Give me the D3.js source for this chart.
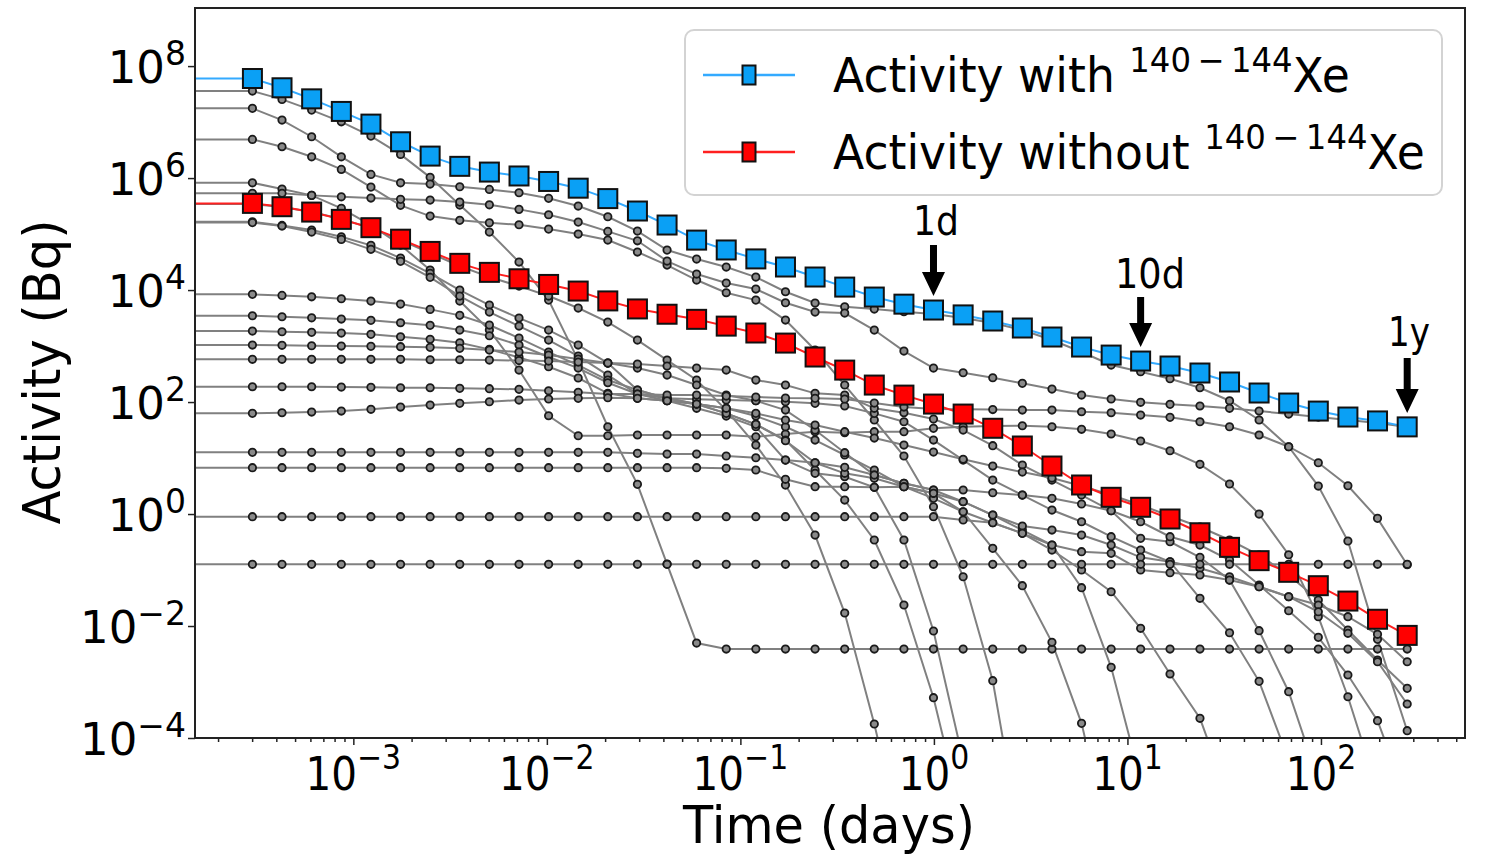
<!DOCTYPE html>
<html><head><meta charset="utf-8">
<script src="https://cdn.jsdelivr.net/npm/d3@7"></script>
<style>
body{margin:0;background:#fff;}
text{font-family:"DejaVu Sans",sans-serif;fill:#000;}
</style></head><body>
<svg id="c" width="1496" height="854"></svg>
<script>
// ---- data ----
const timesDays = [3.01e-4,4.28e-4,6.09e-4,8.67e-4,1.233e-3,1.754e-3,2.494e-3,3.548e-3,5.047e-3,7.18e-3,
  1.021e-2,1.452e-2,2.065e-2,2.938e-2,4.18e-2,5.94e-2,8.45e-2,0.1202,0.171,0.2432,
  0.346,0.492,0.70,0.995,1.416,2.014,2.864,4.074,5.794,8.24,
  11.7,16.6,23.7,33.7,47.9,68.1,96.9,137.8,196,279];
const lineStartTime = 1.0e-4;
const activityWithXe = [6.0e7,4.1e7,2.6e7,1.55e7,9.2e6,4.45e6,2.47e6,1.62e6,1.28e6,1.09e6,
  8.7e5,6.6e5,4.3e5,2.58e5,1.45e5,7.8e4,5.2e4,3.6e4,2.58e4,1.71e4,
  1.13e4,7.5e3,5.6e3,4.4e3,3.6e3,2.8e3,2.1e3,1.45e3,960,690,
  540,440,330,228,145,96,69,54,46,36];
const activityWithoutXe = [3.53e5,3.08e5,2.47e5,1.83e5,1.30e5,8.1e4,4.9e4,3.0e4,2.07e4,1.59e4,
  1.26e4,9.6e3,6.4e3,4.6e3,3.7e3,3.0e3,2.27e3,1.71e3,1.13e3,637,
  372,201,133,92,61,34,16.4,7.2,3.3,1.99,
  1.32,0.815,0.463,0.254,0.147,0.091,0.0525,0.0279,0.0132,0.0068];
// individual nuclide activities, stored as log10(Bq); -8 = far below the plotted range
const nuclideLog10 = [
 [7.554,7.405,7.214,7.005,6.75,6.423,6.013,5.518,5.036,4.5, 3.821,2.75,1.559,0.530,-0.893,-2.304,-2.411,-2.411,-2.411,-2.411,
  -2.411,-2.411,-2.411,-2.411,-2.411,-2.411,-2.411,-2.411,-2.411,-2.411, -2.411,-2.411,-2.411,-2.411,-2.411,-2.411,-2.411,-2.411,-2.411,-2.411],
 [7.245,7.036,6.738,6.380,6.066,5.916,5.893,5.845,5.798,5.738, 5.638,5.5,5.309,5.054,4.714,4.554,4.411,4.232,3.970,3.768,
  3.702,3.661,3.613,3.571,3.5,3.411,3.286,3.107,2.893,2.661, 2.541,2.416,2.255,2.023,1.679,1.202,0.5,-0.482,-2.238,-3.870],
 [6.691,6.559,6.380,6.155,5.839,5.513,5.321,5.245,5.202,5.166, 5.089,5.0,4.893,4.679,4.446,4.179,3.952,3.821,3.464,2.929,
  2.304,1.679,1.036,0.130,-1.120,-2.977,-6.0,-8,-8,-8, -8,-8,-8,-8,-8,-8,-8,-8,-8,-8],
 [5.916,5.804,5.691,5.459,5.161,4.804,4.357,3.804,3.286,2.571, 1.755,1.398,1.398,1.411,1.411,1.411,1.411,1.380,1.429,1.470,
  1.452,1.470,1.470,1.530,1.559,1.571,1.577,1.559,1.513,1.429, 1.304,1.130,0.888,0.536,0,-0.727,-1.834,-3.263,-4.929,-6.893],
 [5.727,5.727,5.691,5.666,5.643,5.620,5.607,5.571,5.523,5.441, 5.345,5.214,5.048,4.880,4.518,4.286,4.125,4.018,3.773,3.607,
  3.589,3.286,2.911,2.607,2.523,2.434,2.334,2.232,2.125,2.054, 1.995,1.959,1.929,1.888,1.839,1.786,1.732,1.679,1.625,1.554],
 [5.536,5.482,5.393,5.268,5.107,4.893,4.661,4.429,4.232,4.071, 3.893,3.679,3.429,3.107,2.75,2.393,1.857,1.232,0.518,-0.375,
  -1.768,-3.75,-6.0,-8,-8,-8,-8,-8,-8,-8, -8,-8,-8,-8,-8,-8,-8,-8,-8,-8],
 [5.220,5.155,5.071,4.952,4.798,4.571,4.298,4.0,3.732,3.5, 3.286,3.018,2.696,2.214,2.066,1.964,1.798,1.602,1.321,0.786,
  0.25,-0.464,-1.625,-3.280,-5.464,-8,-8,-8,-8,-8, -8,-8,-8,-8,-8,-8,-8,-8,-8,-8],
 [5.205,5.143,5.036,4.905,4.727,4.513,4.227,3.893,3.607,3.357, 3.107,2.821,2.482,2.143,2.023,1.888,1.75,1.559,0.964,0.727,
  0.666,0.477,-0.464,-2.089,-4.393,-8,-8,-8,-8,-8, -8,-8,-8,-8,-8,-8,-8,-8,-8,-8],
 [3.923,3.905,3.880,3.845,3.804,3.75,3.655,3.548,3.375,3.143, 2.893,2.661,2.393,2.214,2.066,1.964,1.888,1.75,1.559,1.321,
  1.054,0.786,0.488,0.280,0.041,-0.613,-1.280,-2.291,-3.738,-6.0, -8,-8,-8,-8,-8,-8,-8,-8,-8,-8],
 [3.541,3.523,3.505,3.482,3.459,3.416,3.370,3.286,3.184,3.018, 2.804,2.607,2.345,2.143,2.066,2.048,2.036,2.023,1.857,1.5,
  1.095,0.696,0.548,0.429,0.220,-0.018,-0.286,-0.554,-1.316,-2.738, -4.75,-8,-8,-8,-8,-8,-8,-8,-8,-8],
 [3.268,3.255,3.245,3.232,3.209,3.166,3.120,3.059,2.941,2.798, 2.630,2.429,2.155,2.066,2.023,1.964,1.798,1.602,1.309,0.916,
  0.727,0.638,0.488,0.370,0.041,-0.155,-0.345,-0.643,-1.0,-1.388, -2.041,-2.857,-3.648,-5.107,-8,-8,-8,-8,-8,-8],
 [3.018,3.013,3.005,3.0,2.995,2.988,2.977,2.959,2.929,2.893, 2.839,2.768,2.696,2.607,2.482,2.304,2.125,2.023,2.005,1.977,
  1.929,1.798,1.648,1.321,0.964,0.607,0.339,0.071,-0.138,-0.405, -0.643,-0.852,-1.505,-2.120,-2.988,-4.393,-8,-8,-8,-8],
 [2.763,2.763,2.763,2.763,2.763,2.763,2.755,2.755,2.75,2.741, 2.732,2.714,2.696,2.679,2.643,2.607,2.571,2.393,2.304,2.155,
  2.125,1.888,1.809,1.696,1.5,1.220,0.875,0.607,0.339,0.059, -0.434,-0.495,-0.773,-1.179,-2.084,-3.173,-4.75,-8,-8,-8],
 [2.273,2.273,2.273,2.268,2.263,2.255,2.255,2.245,2.238,2.227, 2.202,2.173,2.143,2.143,2.125,2.125,2.107,2.089,2.071,2.066,
  2.054,1.982,1.911,1.875,1.870,1.866,1.857,1.857,1.827,1.809, 1.768,1.727,1.648,1.559,1.411,1.202,0.916,0.505,-0.077,-0.905],
 [1.798,1.809,1.821,1.839,1.870,1.911,1.946,1.977,2.005,2.036, 2.054,2.066,2.077,2.066,2.023,1.964,1.888,1.798,1.679,1.589,
  1.470,1.357,1.232,1.107,0.977,0.857,0.75,0.643,0.5,0.339, 0.161,-0.036,-0.232,-0.464,-0.732,-1.089,-1.536,-2.071,-2.607,-3.113],
 [1.102,1.102,1.102,1.102,1.102,1.102,1.102,1.102,1.102,1.102, 1.102,1.102,1.102,1.084,1.071,1.071,1.036,1.005,0.964,0.916,
  0.834,0.696,0.548,0.429,0.429,0.380,0.339,0.280,0.179,0.059, -0.138,-0.405,-0.554,-0.821,-1.268,-1.727,-2.202,-2.875,-3.691,-5.107],
 [0.827,0.827,0.827,0.827,0.827,0.827,0.827,0.827,0.827,0.827, 0.827,0.827,0.827,0.827,0.827,0.827,0.816,0.786,0.620,0.488,
  0.488,0.477,0.488,0.370,0.220,-0.018,-0.214,-0.286,-0.375,-0.554, -0.773,-0.852,-0.970,-1.120,-1.298,-1.477,-1.625,-1.834,-2.148,-2.638],
 [-0.048,-0.048,-0.048,-0.048,-0.048,-0.048,-0.048,-0.048,-0.048,-0.048, -0.048,-0.048,-0.048,-0.048,-0.048,-0.048,-0.048,-0.048,-0.048,-0.048,
  -0.048,-0.048,-0.048,-0.048,-0.107,-0.155,-0.345,-0.554,-0.673,-0.702, -1.0,-1.048,-1.089,-1.179,-1.298,-1.477,-1.745,-2.130,-2.638,-3.393],
 [-0.898,-0.898,-0.898,-0.898,-0.898,-0.898,-0.898,-0.898,-0.898,-0.898, -0.898,-0.898,-0.898,-0.898,-0.898,-0.898,-0.898,-0.898,-0.898,-0.898,
  -0.898,-0.898,-0.898,-0.898,-0.898,-0.898,-0.898,-0.898,-0.898,-0.898, -0.898,-0.898,-0.898,-0.898,-0.898,-0.898,-0.898,-0.898,-0.898,-0.898]
];
const xTickExps = [-3,-2,-1,0,1,2];
const yTickExps = [-4,-2,0,2,4,6,8];
const legendLabels = ["Activity with ", "Activity without "];
const legendSup = "140\u2009\u2212\u2009144";
const annotations = [{label:"1d", idx:23}, {label:"10d", idx:30}, {label:"1y", idx:39}];

// ---- drawing ----
const svg = d3.select("#c");
const L = 195, R = 1465, T = 8, B = 738;
const x = d3.scaleLog().domain([1.52e-4, 555]).range([L, R]);
const y = d3.scaleLog().domain([1e-4, 1.09e9]).range([B, T]);

svg.append("defs").append("clipPath").attr("id","clip")
  .append("rect").attr("x",L).attr("y",T).attr("width",R-L).attr("height",B-T);

const plot = svg.append("g").attr("clip-path","url(#clip)");
const line = d3.line().x(d=>x(d[0])).y(d=>y(d[1]));
const withStart = vals => [[lineStartTime, vals[0]]].concat(vals.map((v,i)=>[timesDays[i], v]));

// gray nuclide lines
const grayG = plot.append("g");
nuclideLog10.forEach(arr => {
  const vals = arr.map(e => Math.pow(10, e));
  grayG.append("path").attr("d", line(withStart(vals)))
    .attr("fill","none").attr("stroke","#808080").attr("stroke-width",2);
});
nuclideLog10.forEach(arr => {
  arr.forEach((e,i) => {
    const v = Math.pow(10,e);
    if (v < 1e-4) return;
    grayG.append("circle").attr("cx", x(timesDays[i])).attr("cy", y(v)).attr("r",3.7)
      .attr("fill","#8a8a8a").attr("stroke","#1a1a1a").attr("stroke-width",1.8);
  });
});

function series(vals, lineColor, fill) {
  const g = plot.append("g");
  g.append("path").attr("d", line(withStart(vals))).attr("fill","none")
    .attr("stroke", lineColor).attr("stroke-width", 2);
  g.selectAll("rect").data(vals).join("rect")
    .attr("x",(d,i)=>x(timesDays[i])-9.5).attr("y",d=>y(d)-9.5)
    .attr("width",19).attr("height",19).attr("fill",fill)
    .attr("stroke","#111").attr("stroke-width",2);
}
series(activityWithoutXe, "#ff2020", "#ff0000");
series(activityWithXe, "#33aaff", "#0aa0f5");

// frame
svg.append("rect").attr("x",L).attr("y",T).attr("width",R-L).attr("height",B-T)
  .attr("fill","none").attr("stroke","#222").attr("stroke-width",2);

// x axis ticks
const xMajor = xTickExps.map(e=>Math.pow(10,e));
const xMinor = [];
for (let e=-4; e<=2; e++) for (let m=2; m<=9; m++) { const v=m*Math.pow(10,e); if (v>1.52e-4 && v<555) xMinor.push(v); }
const xAxisMajor = svg.append("g").attr("transform",`translate(0,${B})`)
  .call(d3.axisBottom(x).tickValues(xMajor).tickSize(7).tickFormat(""));
const xAxisMinor = svg.append("g").attr("transform",`translate(0,${B})`)
  .call(d3.axisBottom(x).tickValues(xMinor).tickSize(4).tickFormat(""));
[xAxisMajor, xAxisMinor].forEach(g => { g.select(".domain").remove(); g.selectAll("line").attr("stroke","#222").attr("stroke-width",1.5); });

xTickExps.forEach(e => {
  const cx = x(Math.pow(10,e));
  const t = svg.append("text").attr("x", cx).attr("y", 790)
    .attr("text-anchor","middle").attr("font-size",46);
  t.append("tspan").text("10");
  t.append("tspan").attr("dy",-21).attr("font-size",34).text(e<0 ? "\u2212"+(-e) : String(e));
  t.attr("transform", `translate(${cx},0) scale(0.88,1) translate(${-cx},0)`);
});

// y axis ticks
const yAxis = svg.append("g").attr("transform",`translate(${L},0)`)
  .call(d3.axisLeft(y).tickValues(yTickExps.map(e=>Math.pow(10,e))).tickSize(7).tickFormat(""));
yAxis.select(".domain").remove();
yAxis.selectAll("line").attr("stroke","#222").attr("stroke-width",1.5);
yTickExps.forEach(e => {
  const yy = y(Math.pow(10,e));
  const t = svg.append("text").attr("x", 186).attr("y", yy+17)
    .attr("text-anchor","end").attr("font-size",45);
  t.append("tspan").text("10");
  t.append("tspan").attr("dy",-18).attr("font-size",33).text(e<0 ? "\u2212"+(-e) : String(e));
});

// axis titles
const xt = svg.append("text").attr("x", 829).attr("y", 843).attr("text-anchor","middle")
  .attr("font-size",51).text("Time (days)");
{ const s = 292 / xt.node().getComputedTextLength();
  xt.attr("transform", `translate(829,0) scale(${s},1) translate(-829,0)`); }
const yt = svg.append("text").attr("text-anchor","middle").attr("font-size",52).text("Activity (Bq)");
{ const s = 305 / yt.node().getComputedTextLength();
  yt.attr("transform", `translate(60,372) rotate(-90) scale(${s},1)`); }

// legend
const lg = svg.append("g");
lg.append("rect").attr("x",685).attr("y",30).attr("width",757).attr("height",165).attr("rx",9)
  .attr("fill","#fff").attr("fill-opacity",0.85).attr("stroke","#d3d3d3").attr("stroke-width",2);
const legendRows = [{cy:75, color:"#33aaff", fill:"#0aa0f5", w:517}, {cy:152, color:"#ff2020", fill:"#ff0000", w:592}];
legendRows.forEach((r,i) => {
  lg.append("line").attr("x1",703).attr("x2",795).attr("y1",r.cy).attr("y2",r.cy)
    .attr("stroke",r.color).attr("stroke-width",2.5);
  lg.append("rect").attr("x",749-6.5).attr("y",r.cy-9.5).attr("width",13).attr("height",19)
    .attr("fill",r.fill).attr("stroke","#111").attr("stroke-width",2);
  const t = lg.append("text").attr("x",833).attr("y",r.cy+17).attr("font-size",48);
  t.append("tspan").text(legendLabels[i]);
  t.append("tspan").attr("dy",-20).attr("font-size",34).text(legendSup);
  t.append("tspan").attr("dy",20).text("Xe");
  const s = r.w / t.node().getBBox().width;
  t.attr("transform", `translate(833,0) scale(${s},1) translate(-833,0)`);
});

// annotations with arrows
const annG = svg.append("g");
const annLayout = [{tx:936, ty:235, w:46, top:245}, {tx:1150, ty:288, w:70, top:297}, {tx:1409, ty:346, w:42, top:358}];
annotations.forEach((a,k) => {
  const lay = annLayout[k];
  const ax = x(timesDays[a.idx]);
  const tip = y(activityWithXe[a.idx]) - 14;
  const headH = 24, hw = 11.5, sw = 3.5;
  const top = lay.top;
  annG.append("path").attr("d",
    `M${ax-sw},${top} L${ax+sw},${top} L${ax+sw},${tip-headH} L${ax+hw},${tip-headH} L${ax},${tip} L${ax-hw},${tip-headH} L${ax-sw},${tip-headH} Z`)
    .attr("fill","#000");
  const t = annG.append("text").attr("x",lay.tx).attr("y",lay.ty).attr("text-anchor","middle")
    .attr("font-size",41).text(a.label);
  const s = lay.w / t.node().getComputedTextLength();
  t.attr("transform", `translate(${lay.tx},0) scale(${s},1) translate(${-lay.tx},0)`);
});
</script>
</body></html>
